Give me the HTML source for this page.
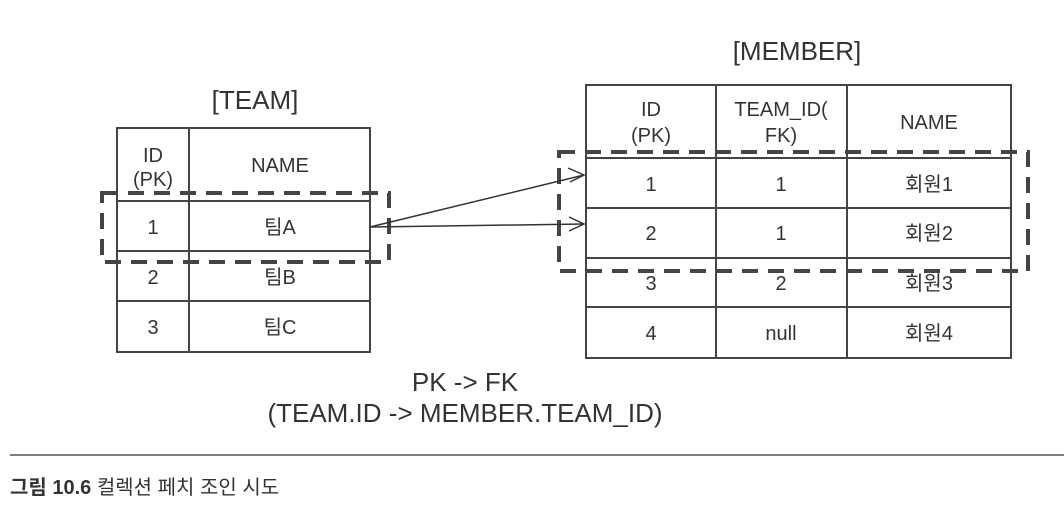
<!DOCTYPE html>
<html><head><meta charset="utf-8"><style>
html,body{margin:0;padding:0;background:#fff;}
svg text{font-family:"Liberation Sans","Noto Sans CJK KR",sans-serif;fill:#333;}
</style></head><body>
<svg width="1064" height="524" viewBox="0 0 1064 524" xmlns="http://www.w3.org/2000/svg">
<g stroke="#444" stroke-width="2" fill="none">
<rect x="117" y="128" width="253" height="224"/>
<line x1="189" y1="128" x2="189" y2="352"/>
<line x1="117" y1="201" x2="370" y2="201"/>
<line x1="117" y1="251" x2="370" y2="251"/>
<line x1="117" y1="301" x2="370" y2="301"/>
<rect x="586" y="85" width="425" height="273"/>
<line x1="716" y1="85" x2="716" y2="358"/>
<line x1="847" y1="85" x2="847" y2="358"/>
<line x1="586" y1="158" x2="1011" y2="158"/>
<line x1="586" y1="208" x2="1011" y2="208"/>
<line x1="586" y1="258" x2="1011" y2="258"/>
<line x1="586" y1="307" x2="1011" y2="307"/>
</g>
<g stroke="#444" stroke-width="4" fill="none" stroke-dasharray="16,10">
<rect x="102" y="193" width="287" height="69"/>
<rect x="559" y="152" width="469" height="119"/>
</g>
<g stroke="#333" stroke-width="1.5" fill="none">
<line x1="370" y1="227" x2="584" y2="175"/>
<line x1="370" y1="227" x2="584" y2="224"/>
<polyline points="568,168 584,175 570,182"/>
<polyline points="569,217 584,224 569,231"/>
</g>
<g font-size="20" text-anchor="middle">
<text x="255" y="109" font-size="26">[TEAM]</text>
<text x="797" y="60" font-size="26">[MEMBER]</text>
<text x="153" y="162">ID</text><text x="153" y="186">(PK)</text>
<text x="280" y="172">NAME</text>
<text x="153" y="234">1</text><text x="280" y="234">팀A</text>
<text x="153" y="284">2</text><text x="280" y="284">팀B</text>
<text x="153" y="334">3</text><text x="280" y="334">팀C</text>
<text x="651" y="116">ID</text><text x="651" y="142">(PK)</text>
<text x="781" y="116">TEAM_ID(</text><text x="781" y="142">FK)</text>
<text x="929" y="129">NAME</text>
<text x="651" y="191">1</text><text x="781" y="191">1</text><text x="929" y="191">회원1</text>
<text x="651" y="240">2</text><text x="781" y="240">1</text><text x="929" y="240">회원2</text>
<text x="651" y="290">3</text><text x="781" y="290">2</text><text x="929" y="290">회원3</text>
<text x="651" y="340">4</text><text x="781" y="340">null</text><text x="929" y="340">회원4</text>
<text x="465" y="391" font-size="26">PK -&gt; FK</text>
<text x="465" y="422" font-size="26">(TEAM.ID -&gt; MEMBER.TEAM_ID)</text>
</g>
<line x1="10" y1="455" x2="1064" y2="455" stroke="#555" stroke-width="1.5"/>
<text x="10" y="494" font-size="20"><tspan font-weight="bold">그림 10.6</tspan> 컬렉션 페치 조인 시도</text>
</svg>
</body></html>
